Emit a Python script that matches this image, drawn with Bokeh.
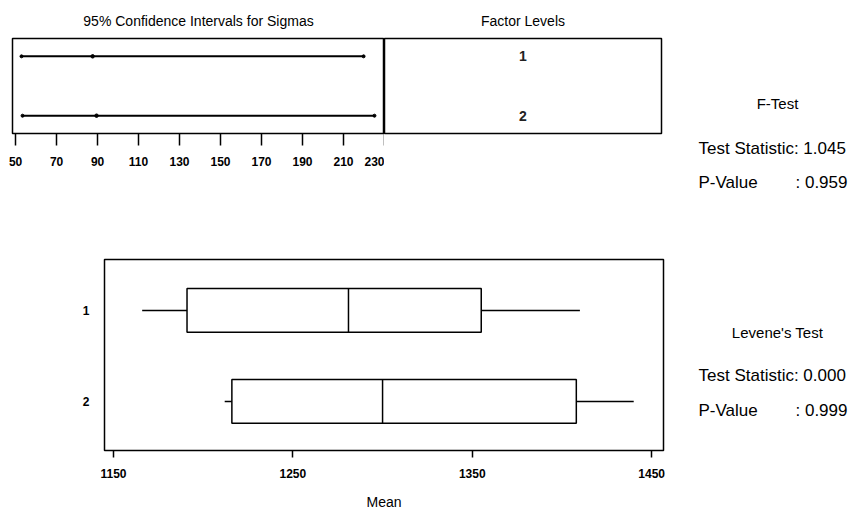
from bokeh.plotting import figure
from bokeh.layouts import row, column
from bokeh.models import Range1d, FixedTicker, ColumnDataSource
from bokeh.core.properties import value
from bokeh.embed import file_html
from bokeh.resources import INLINE

FONT = "Liberation Sans"

# ---- data ----
levels = [1, 2]
level_labels = ["1", "2"]
sigma_lower = [52.9, 53.4]
sigma_est = [87.6, 89.5]
sigma_upper = [219.8, 225.1]
sigma_ticks = [50, 70, 90, 110, 130, 150, 170, 190, 210, 230]

whisker_low = [1166, 1212]
q1 = [1191, 1216]
median = [1281, 1300]
q3 = [1355, 1408]
whisker_high = [1410, 1440]
mean_ticks = [1150, 1250, 1350, 1450]

ftest_title = "F-Test"
ftest_stat = "1.045"
ftest_p = "0.959"
levene_title = "Levene's Test"
levene_stat = "0.000"
levene_p = "0.999"

# ---- panel A: confidence intervals for sigmas ----
A = figure(width=384, height=185, output_backend="svg", toolbar_location=None,
           x_range=Range1d(48.5, 230), y_range=Range1d(2.3, 0.7),
           y_axis_location=None, min_border_left=12, min_border_right=0,
           min_border_top=37, min_border_bottom=52,
           title="95% Confidence Intervals for Sigmas")
A.title.align = "center"
A.title.text_font = FONT
A.title.text_font_size = "14px"
A.title.text_font_style = "normal"
A.title.text_color = "black"
A.title.standoff = 20
A.grid.visible = False
A.outline_line_color = "black"
A.outline_line_width = 1.5
A.outline_line_alpha = 1
A.xaxis.ticker = FixedTicker(ticks=sigma_ticks)
A.xaxis.major_tick_out = 12
A.xaxis.major_tick_in = 0
A.xaxis.minor_tick_line_color = None
A.xaxis.axis_line_color = None
A.xaxis.major_tick_line_width = 1.5
A.xaxis.major_tick_line_color = "black"
A.xaxis.major_label_text_font = FONT
A.xaxis.major_label_text_font_size = "12px"
A.xaxis.major_label_text_font_style = "bold"
A.xaxis.major_label_text_color = "black"
A.xaxis.major_label_standoff = 11

src = ColumnDataSource(dict(y=levels, lo=sigma_lower, est=sigma_est, hi=sigma_upper))
A.segment(x0="lo", x1="hi", y0="y", y1="y", source=src, line_color="black", line_width=2)
A.scatter(x="est", y="y", source=src, size=3.5, color="black")
A.scatter(x="lo", y="y", source=src, size=3, color="black")
A.scatter(x="hi", y="y", source=src, size=3, color="black")

# ---- panel B: factor levels ----
B = figure(width=281, height=185, output_backend="svg", toolbar_location=None,
           x_range=Range1d(0, 1), y_range=Range1d(2.3, 0.7),
           x_axis_location=None, y_axis_location=None,
           min_border_left=0, min_border_right=4,
           min_border_top=37, min_border_bottom=52, title="Factor Levels")
B.title.align = "center"
B.title.text_font = FONT
B.title.text_font_size = "14px"
B.title.text_font_style = "normal"
B.title.text_color = "black"
B.title.standoff = 20
B.grid.visible = False
B.outline_line_color = "black"
B.outline_line_width = 1.5
B.outline_line_alpha = 1
B.text(x=[0.5, 0.5], y=levels, text=level_labels, text_font=value(FONT),
       text_font_size="14px", text_font_style="bold", text_align="center",
       text_baseline="middle", text_color="#222222")

# ---- panel C: boxplots ----
C = figure(width=665, height=327, output_backend="svg", toolbar_location=None,
           x_range=Range1d(1145.0, 1456.6), y_range=Range1d(2.54, 0.44),
           min_border_left=104, min_border_right=2,
           min_border_top=74, min_border_bottom=62)
C.grid.visible = False
C.outline_line_color = "black"
C.outline_line_width = 1.5
C.outline_line_alpha = 1
C.xaxis.ticker = FixedTicker(ticks=mean_ticks)
C.xaxis.major_tick_out = 7
C.xaxis.major_tick_in = 0
C.xaxis.minor_tick_line_color = None
C.xaxis.axis_line_color = None
C.xaxis.major_tick_line_width = 1.5
C.xaxis.major_tick_line_color = "black"
C.xaxis.major_label_text_font = FONT
C.xaxis.major_label_text_font_size = "12px"
C.xaxis.major_label_text_font_style = "bold"
C.xaxis.major_label_text_color = "black"
C.xaxis.major_label_standoff = 11
C.xaxis.axis_label = "Mean"
C.xaxis.axis_label_text_font = FONT
C.xaxis.axis_label_text_font_size = "14px"
C.xaxis.axis_label_text_font_style = "normal"
C.xaxis.axis_label_text_color = "black"
C.xaxis.axis_label_standoff = 13
C.yaxis.ticker = FixedTicker(ticks=levels)
C.yaxis.major_tick_out = 0
C.yaxis.major_tick_in = 0
C.yaxis.minor_tick_line_color = None
C.yaxis.axis_line_color = None
C.yaxis.major_label_text_font = FONT
C.yaxis.major_label_text_font_size = "12px"
C.yaxis.major_label_text_font_style = "bold"
C.yaxis.major_label_text_color = "black"
C.yaxis.major_label_standoff = 15

bsrc = ColumnDataSource(dict(y=levels, wl=whisker_low, q1=q1, med=median, q3=q3, wh=whisker_high))
C.hbar(y="y", left="q1", right="q3", height=0.48, source=bsrc,
       fill_color=None, line_color="black", line_width=1.5)
C.segment(x0="wl", x1="q1", y0="y", y1="y", source=bsrc, line_color="black", line_width=1.5)
C.segment(x0="q3", x1="wh", y0="y", y1="y", source=bsrc, line_color="black", line_width=1.5)
C.hbar(y="y", left="med", right="med", height=0.48, source=bsrc,
       fill_color=None, line_color="black", line_width=1.5)

# ---- panel D: test results ----
D = figure(width=193, height=512, output_backend="svg", toolbar_location=None,
           x_range=Range1d(0, 193), y_range=Range1d(512, 0),
           x_axis_location=None, y_axis_location=None,
           min_border=0)
D.grid.visible = False
D.outline_line_color = None
D.text(x=[112, 112], y=[103, 332], text=[ftest_title, levene_title],
       text_font=value(FONT), text_font_size="15px", text_align="center",
       text_baseline="middle", text_color="black")
D.text(x=[33, 33, 33, 33], y=[148, 182, 375, 410],
       text=["Test Statistic: " + ftest_stat, "P-Value", "Test Statistic: " + levene_stat, "P-Value"],
       text_font=value(FONT), text_font_size="17px", text_align="left",
       text_baseline="middle", text_color="black")
D.text(x=[130, 130], y=[182, 410], text=[": " + ftest_p, ": " + levene_p],
       text_font=value(FONT), text_font_size="17px", text_align="left",
       text_baseline="middle", text_color="black")

layout = row(column(row(A, B), C), D)
open("out.html", "w").write(file_html(layout, INLINE))
